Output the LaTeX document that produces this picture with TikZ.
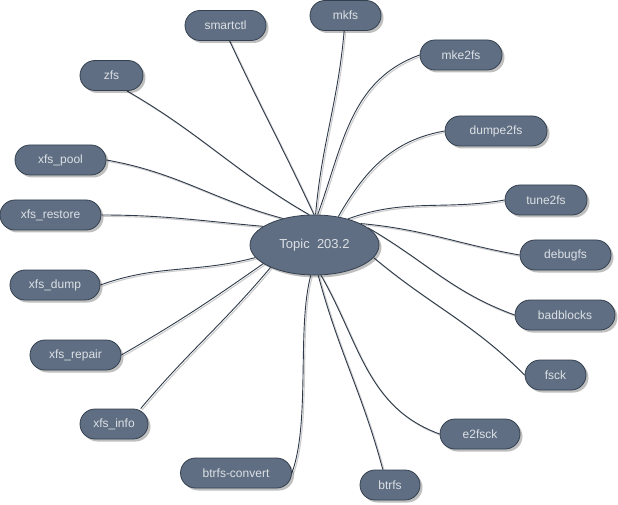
\documentclass[tikz,border=0pt]{standalone}
\usepackage{fontspec}
\setmainfont{Liberation Sans}
\usetikzlibrary{shadows,shapes.geometric}
\definecolor{nodefill}{HTML}{5F6E82}
\definecolor{nodeedge}{HTML}{34404F}
\definecolor{nodetext}{HTML}{DDE1E6}
\definecolor{linkc}{HTML}{2F3B4A}
\pgfdeclarelayer{bg}
\pgfsetlayers{bg,main}
\tikzset{
  pill/.style={draw=nodeedge, line width=0.8pt, fill=nodefill, text=nodetext,
    rounded corners=15pt, minimum height=30pt, inner sep=0pt,
    font=\fontsize{12}{14}\selectfont,
    drop shadow={shadow xshift=2.5pt, shadow yshift=-2.5pt, fill=black, opacity=0.25}},
  hub/.style={ellipse, draw=nodeedge, line width=0.8pt, fill=nodefill, text=nodetext,
    minimum width=129pt, minimum height=60pt, inner sep=0pt,
    font=\fontsize{13}{15}\selectfont,
    drop shadow={shadow xshift=2.5pt, shadow yshift=-2.5pt, fill=black, opacity=0.25}},
  lnk/.style={draw=linkc, line width=0.9pt},
  lshadow/.style={draw=gray!40, line width=1.1pt, transform canvas={shift={(1.4pt,-1.4pt)}}}
}
\newcommand\conn[5][]{%
  \draw[lshadow] (#2) to[out=#4,in=#5,#1] (#3);
  \draw[lnk] (#2) to[out=#4,in=#5,#1] (#3);}
\begin{document}
\begin{tikzpicture}[x=1pt,y=1pt]
\useasboundingbox (0,0) rectangle (618,504);

\node[hub] (topic) at (314.5,259) {Topic~~203.2};

\node[pill, minimum width=81pt] (smartctl) at (225.5,478.5) {smartctl};
\node[pill, minimum width=71pt] (mkfs) at (345.5,488.5) {mkfs};
\node[pill, minimum width=82pt] (mke2fs) at (461,449) {mke2fs};
\node[pill, minimum width=63pt] (zfs) at (111.5,428.5) {zfs};
\node[pill, minimum width=102pt] (dumpe2fs) at (496,373) {dumpe2fs};
\node[pill, minimum width=91pt] (xfspool) at (60.5,344) {xfs\_pool};
\node[pill, minimum width=101pt] (xfsrestore) at (50.5,289) {xfs\_restore};
\node[pill, minimum width=82pt] (tune2fs) at (546,304) {tune2fs};
\node[pill, minimum width=91pt] (debugfs) at (565.5,249) {debugfs};
\node[pill, minimum width=100pt] (badblocks) at (565,189) {badblocks};
\node[pill, minimum width=61pt] (fsck) at (555.5,129) {fsck};
\node[pill, minimum width=90pt] (xfsdump) at (55,219) {xfs\_dump};
\node[pill, minimum width=91pt] (xfsrepair) at (75.5,149) {xfs\_repair};
\node[pill, minimum width=68pt] (xfsinfo) at (114,80) {xfs\_info};
\node[pill, minimum width=80pt] (e2fsck) at (480,70) {e2fsck};
\node[pill, minimum width=111pt] (btrfsconvert) at (236,31) {btrfs-convert};
\node[pill, minimum width=60pt] (btrfs) at (390,19) {btrfs};

\begin{pgfonlayer}{bg}
\fill[white] (0,0) rectangle (618,504);
\conn{topic.91}{smartctl.-75}{115}{-65}
\conn{topic.88}{mkfs.-95}{85}{-95}
\conn{topic.84}{mke2fs.west}{70}{200}
\conn{topic.100}{zfs.-45}{150}{-30}
\conn{topic.140}{xfspool.east}{165}{-10}
\conn{topic.160}{xfsrestore.east}{175}{0}
\conn{topic.50}{dumpe2fs.west}{60}{190}
\conn{topic.38}{tune2fs.west}{20}{190}
\conn{topic.25}{debugfs.west}{-5}{170}
\conn{topic.18}{badblocks.west}{-30}{160}
\conn{topic.-12}{fsck.west}{-40}{135}
\conn{topic.-78}{e2fsck.west}{-60}{160}
\conn{topic.-83}{btrfs.115}{-75}{105}
\conn[looseness=0.7]{topic.-97}{btrfsconvert.east}{-105}{70}
\conn{topic.192}{xfsdump.east}{195}{20}
\conn{topic.200}{xfsrepair.east}{215}{30}
\conn{topic.207}{xfsinfo.30}{230}{50}
\end{pgfonlayer}
\end{tikzpicture}
\end{document}
